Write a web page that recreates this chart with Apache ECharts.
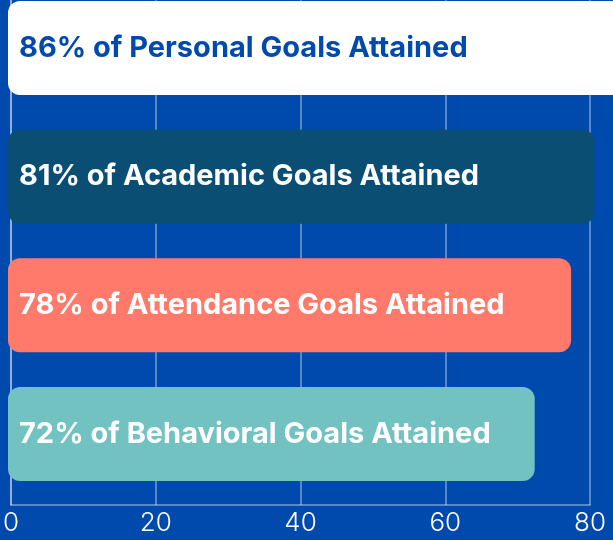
<!DOCTYPE html>
<html>
<head>
<meta charset="utf-8">
<script src="https://cdn.jsdelivr.net/npm/echarts@6/dist/echarts.min.js"></script>
<style>
html,body{margin:0;padding:0;background:#004AAD;}
#chart{width:613px;height:540px;}
</style>
</head>
<body>
<div id="chart"></div>
<script>
const categories = ['Personal', 'Academic', 'Attendance', 'Behavioral'];
const values = [86, 80.6, 77.4, 72.4];
const labels = ['86% of Personal Goals Attained', '81% of Academic Goals Attained', '78% of Attendance Goals Attained', '72% of Behavioral Goals Attained'];
const barColors = ['#FFFFFF', '#0A4E74', '#FF7A6A', '#72C2C2'];
const labelColors = ['#004AAD', '#FFFFFF', '#FFFFFF', '#FFFFFF'];
const xTicks = [0, 20, 40, 60, 80];

const chart = echarts.init(document.getElementById('chart'), null, {renderer: 'canvas'});
const lineColor = 'rgba(255,255,255,0.45)';
const option = {
  backgroundColor: '#004AAD',
  animation: false,
  grid: [
    {left: 8, right: 23, top: 0, bottom: 35, containLabel: false},
    {left: 8, right: 23, top: 48, bottom: 106, containLabel: false}
  ],
  xAxis: [
    {
      gridIndex: 0, type: 'value', min: xTicks[0], max: xTicks[xTicks.length - 1], interval: 20,
      axisLine: {show: true, lineStyle: {color: lineColor, width: 1.5}},
      axisTick: {show: false},
      splitLine: {show: true, lineStyle: {color: lineColor, width: 1.5}},
      axisLabel: {color: '#FFFFFF', fontFamily: 'Inter', fontWeight: 300, fontSize: 26, margin: 5,
        formatter: v => xTicks.includes(v) ? String(v) : ''}
    },
    {
      gridIndex: 1, type: 'value', min: xTicks[0], max: xTicks[xTicks.length - 1],
      show: false
    }
  ],
  yAxis: [
    {
      gridIndex: 0, type: 'category', data: categories, inverse: true,
      axisLine: {show: true, lineStyle: {color: lineColor, width: 1.5}},
      axisTick: {show: false}, axisLabel: {show: false}, splitLine: {show: false}
    },
    {
      gridIndex: 1, type: 'category', data: categories, inverse: true, boundaryGap: false, show: false
    }
  ],
  series: [{
    type: 'bar',
    xAxisIndex: 1, yAxisIndex: 1,
    clip: false,
    barWidth: 94,
    data: values.map((v, i) => ({
      value: v,
      itemStyle: {color: barColors[i], borderRadius: 12},
      label: {color: labelColors[i]}
    })),
    label: {
      show: true, position: 'insideLeft', distance: 11,
      formatter: p => labels[p.dataIndex],
      fontFamily: 'Inter', fontWeight: 700, fontSize: 29
    }
  }]
};
chart.setOption(option);
</script>
</body>
</html>
